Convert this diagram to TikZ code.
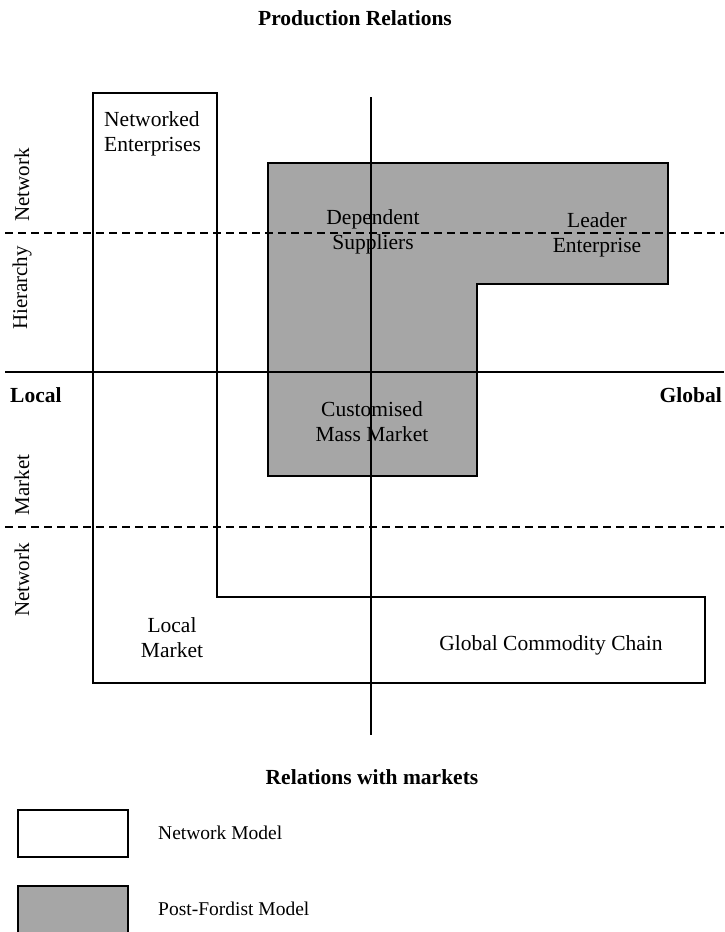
\documentclass[tikz,border=0pt]{standalone}
\usepackage{fontspec}
\setmainfont{Liberation Serif}
\begin{document}
\begin{tikzpicture}[x=1pt,y=-1pt,
  outline/.style={line width=1.6pt, draw=black, line join=miter},
  netmodel/.style={outline, fill=white},
  postford/.style={outline, fill=black!35},
  axis/.style={line width=1.6pt, black},
  divider/.style={line width=1.6pt, black, dash pattern=on 8pt off 5pt},
  lbl/.style={font=\fontsize{21.5}{25}\selectfont, align=center, inner sep=0pt},
  head/.style={font=\fontsize{21.5}{25}\selectfont\bfseries, inner sep=0pt},
  side/.style={font=\fontsize{21}{25}\selectfont, rotate=90, inner sep=0pt},
  legendtext/.style={font=\fontsize{19.5}{23}\selectfont, anchor=west, inner sep=0pt}]
\useasboundingbox (0,0) rectangle (724,932);

% network model region (white L-shape)
\draw[netmodel] (93,93) -- (217,93) -- (217,597) -- (705,597) -- (705,683) -- (93,683) -- cycle;

% post-fordist model region (grey L-shape)
\draw[postford] (268,163) -- (668,163) -- (668,284) -- (477,284) -- (477,476) -- (268,476) -- cycle;

% axes
\coordinate (vtop) at (371,97);
\coordinate (vbot) at (371,735);
\coordinate (hleft) at (5,372);
\coordinate (hright) at (724,372);
\draw[axis] (vtop) -- (vbot);
\draw[axis] (hleft) -- (hright);

% dashed dividers
\coordinate (d1l) at (5,233);
\coordinate (d1r) at (724,233);
\coordinate (d2l) at (5,527);
\coordinate (d2r) at (724,527);
\draw[divider] (d1l) -- (d1r);
\draw[divider] (d2l) -- (d2r);

% titles
\node[head] (ptitle) at (355,18) {Production Relations};
\node[head] (mtitle) at (372,777) {Relations with markets};
\node[head, anchor=west] (local) at (10,395) {Local};
\node[head, anchor=east] (global) at (722,395) {Global};

% side labels
\node[side] (netA) at (22,185) {Network};
\node[side] (hier) at (22,288) {Hierarchy};
\node[side] (mark) at (22,485) {Market};
\node[side] (netB) at (22,580) {Network};

% region labels
\node[lbl, align=left, anchor=west] (netent) at (104,134) {Networked\\Enterprises};
\node[lbl] (depsup) at (373,232) {Dependent\\Suppliers};
\node[lbl] (leader) at (597,235) {Leader\\Enterprise};
\node[lbl] (custom) at (372,422) {Customised\\Mass Market};
\node[lbl] (locmar) at (172,638) {Local\\Market};
\node[lbl] (gcc) at (551,645) {Global Commodity Chain};

% legend
\draw[netmodel] (18,810) rectangle (128,857);
\draw[postford] (18,886) rectangle (128,934);
\node[legendtext] (lnet) at (158,833) {Network Model};
\node[legendtext] (lpf) at (158,909) {Post-Fordist Model};
\end{tikzpicture}
\end{document}
